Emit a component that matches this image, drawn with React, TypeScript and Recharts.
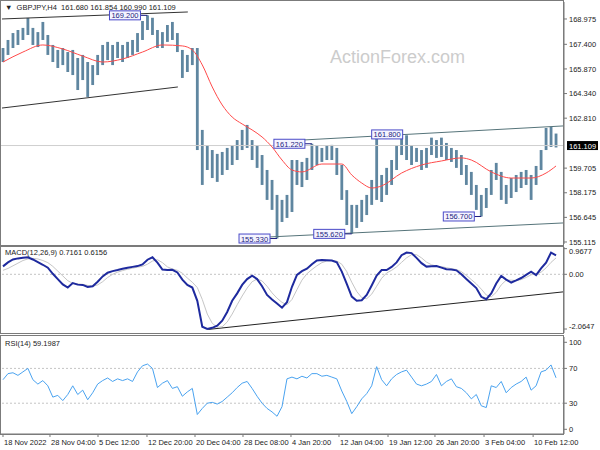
import React from "react";
import {
  ComposedChart,
  Bar,
  Line,
  XAxis,
  YAxis,
  ReferenceLine,
  ReferenceDot,
} from "recharts";

// H4 bars, sampled ~every 3 bars across the picture
const highs = [
  167.17, 167.67, 168.1, 168.29, 168.42, 169.04, 168.42, 168.16, 168.79, 167.98,
  167.36, 167.05, 167.17, 166.92, 167.05, 166.55, 166.74, 166.3, 166.11, 166.74,
  167.36, 167.55, 167.36, 167.55, 167.36, 167.55, 167.67, 168.1, 168.85, 169.2,
  169.05, 168.29, 168.16, 168.6, 168.79, 168.1, 167.05, 166.74, 167.17, 167.17,
  162.08, 161.14, 160.83, 160.59, 160.71, 160.96, 161.14, 161.45, 162.08, 162.39,
  161.45, 161.14, 160.52, 159.59, 158.97, 158.04, 157.73, 158.04, 160.21, 160.21,
  160.09, 160.34, 161.22, 161.14, 160.96, 161.14, 161.15, 160.96, 159.9, 158.34,
  157.42, 157.42, 157.73, 158.04, 158.97, 161.8, 159.28, 159.72, 160.21, 161.14,
  161.7, 161.75, 161.14, 160.96, 160.83, 160.96, 161.6, 161.45, 161.6, 161.27,
  160.96, 160.83, 160.52, 159.9, 159.47, 158.66, 158.04, 158.47, 159.59, 160.03,
  159.47, 158.66, 159.09, 159.28, 159.47, 159.59, 159.28, 159.84, 160.83, 162.2,
  162.27, 161.854,
];
const lows = [
  166.3, 166.74, 167.17, 167.36, 167.67, 167.98, 167.36, 167.23, 167.67, 166.74,
  166.3, 165.93, 166.11, 165.68, 165.49, 164.56, 165.18, 164.13, 164.87, 165.49,
  166.11, 166.42, 166.11, 166.55, 166.3, 166.55, 166.74, 166.92, 167.67, 168.29,
  167.98, 167.17, 167.17, 167.55, 167.67, 166.92, 165.31, 165.68, 166.11, 160.83,
  158.66, 159.59, 159.09, 158.85, 159.28, 159.59, 159.9, 160.21, 160.83, 160.96,
  160.21, 159.72, 158.66, 157.73, 157.11, 155.33, 156.36, 156.61, 156.98, 158.66,
  158.53, 158.97, 159.59, 159.9, 160.09, 160.21, 160.21, 159.28, 157.73, 156.17,
  155.62, 155.99, 156.36, 156.79, 157.42, 157.73, 157.6, 158.04, 158.66, 159.59,
  160.52, 160.21, 159.9, 160.09, 159.59, 159.72, 160.52, 160.34, 160.4, 160.21,
  160.09, 159.72, 159.28, 158.66, 158.04, 157.11, 156.7, 157.23, 158.04, 158.97,
  157.73, 157.48, 157.85, 158.22, 158.47, 158.66, 157.73, 158.66, 159.59, 160.83,
  161.02, 160.99,
];

// moving average (red), read at a few bars
const maIdx = [
  0, 4, 8, 12, 16, 20, 24, 28, 32, 36, 38, 40, 42, 44, 46, 48, 50, 52, 54, 56,
  58, 60, 64, 68, 70, 72, 74, 76, 80, 84, 88, 92, 94, 98, 102, 106, 109, 111,
];
const maVals = [
  166.3, 166.92, 167.36, 167.11, 166.67, 166.3, 166.49, 166.92, 167.36, 167.3,
  167.05, 166.12, 164.75, 163.63, 162.88, 162.45, 162.08, 161.64, 161.02, 160.21,
  159.59, 159.47, 159.96, 159.96, 159.28, 158.78, 158.47, 158.6, 159.4, 159.9,
  160.15, 160.34, 160.21, 159.47, 159.09, 159.09, 159.4, 159.84,
];

const macdVals = [
  0.3, 0.45, 0.56, 0.6, 0.62, 0.64, 0.56, 0.46, 0.36, 0.25,
  0.02, -0.18, -0.38, -0.5, -0.33, -0.39, -0.4, -0.48, -0.45, -0.28,
  -0.08, 0.06, 0.12, 0.16, 0.21, 0.25, 0.28, 0.31, 0.37, 0.55,
  0.64, 0.44, 0.18, 0.16, 0.17, 0.07, -0.2, -0.4, -0.5, -1.0,
  -1.98, -2.06, -2.02, -1.94, -1.75, -1.42, -1.0, -0.72, -0.4, -0.18,
  -0.05, -0.18, -0.45, -0.78, -0.95, -1.1, -1.26, -1.05, -0.47, -0.02,
  0.12, 0.21, 0.38, 0.52, 0.54, 0.53, 0.52, 0.45, 0.1, -0.36,
  -0.84, -1.0, -0.98, -0.78, -0.42, -0.05, 0.16, 0.16, 0.28, 0.45,
  0.72, 0.82, 0.8, 0.62, 0.42, 0.29, 0.3, 0.31, 0.25, 0.19,
  0.18, 0.15, 0.0, -0.18, -0.35, -0.52, -0.85, -0.94, -0.72, -0.35,
  -0.06, -0.2, -0.31, -0.23, -0.14, -0.02, 0.1, -0.03, 0.22, 0.44,
  0.82, 0.7161,
];
const signalVals = [
  0.15, 0.22, 0.32, 0.42, 0.52, 0.58, 0.6, 0.58, 0.52, 0.44,
  0.3, 0.12, -0.06, -0.24, -0.34, -0.36, -0.38, -0.42, -0.45, -0.4,
  -0.28, -0.12, 0.0, 0.08, 0.14, 0.19, 0.23, 0.27, 0.3, 0.38,
  0.5, 0.55, 0.44, 0.28, 0.2, 0.15, 0.04, -0.14, -0.3, -0.5,
  -0.95, -1.5, -1.85, -2.0, -1.98, -1.8, -1.5, -1.15, -0.82, -0.52,
  -0.28, -0.18, -0.25, -0.45, -0.7, -0.9, -1.06, -1.15, -0.95, -0.58,
  -0.22, 0.02, 0.18, 0.32, 0.44, 0.5, 0.52, 0.5, 0.38, 0.1,
  -0.3, -0.65, -0.88, -0.92, -0.75, -0.45, -0.15, 0.05, 0.15, 0.28,
  0.45, 0.62, 0.74, 0.74, 0.62, 0.46, 0.36, 0.31, 0.29, 0.25,
  0.21, 0.18, 0.1, -0.04, -0.2, -0.36, -0.56, -0.78, -0.85, -0.68,
  -0.4, -0.22, -0.22, -0.24, -0.2, -0.12, -0.02, 0.02, 0.08, 0.24,
  0.45, 0.6156,
];
const rsiVals = [
  57, 64, 65, 62, 66, 70, 57, 52, 56, 50,
  37, 39, 33, 40, 50, 40, 45, 34, 42, 52,
  56, 59, 55, 58, 56, 58, 55, 66, 73, 75,
  70, 48, 53, 56, 47, 49, 38, 43, 47, 17,
  24, 30, 31, 29, 32, 37, 42, 48, 53, 55,
  47, 38, 30, 24, 20, 15, 26, 58, 60, 58,
  61, 59, 64, 64, 61, 62, 60, 58, 44, 32,
  18, 26, 35, 41, 50, 72, 57, 50, 58, 63,
  66, 68, 60, 52, 50, 52, 55, 63, 50, 55,
  58, 49, 47, 42, 35, 40, 27, 25, 50, 48,
  55, 42, 48, 52, 55, 60, 45, 50, 66, 68,
  74, 59.1987,
];

const tickIdx = [0, 9.43, 19.07, 28.9, 38.54, 48.17, 57.8, 67.44, 77.28, 86.7, 96.55, 106.4];
const tickLabels = [
  "18 Nov 2022", "28 Nov 04:00", "5 Dec 12:00", "12 Dec 20:00", "20 Dec 04:00",
  "28 Dec 08:00", "4 Jan 20:00", "12 Jan 04:00", "19 Jan 12:00", "26 Jan 20:00",
  "3 Feb 04:00", "10 Feb 12:00",
];
const priceTicks = [168.975, 167.4, 165.87, 164.34, 162.81, 159.705, 158.175, 156.645, 155.115];
const macdTicks = [0.9677, 0, -2.0647];
const rsiTicks = [100, 70, 30, 0];

const pivotIdx = [29, 62, 55, 70, 75, 96];
const pivotPrice = [169.2, 161.22, 155.33, 155.62, 161.8, 156.7];

// trend lines: [startIdx, startPrice, endIdx, endPrice]
const blackLines = [
  [-0.2, 168.975, 37.1, 169.41],
  [-0.2, 163.44, 35.1, 164.75],
];
const channelLines = [
  [60.6, 161.46, 112.6, 162.33],
  [53.6, 155.43, 112.6, 156.3],
];
const macdLine = [41.2, -2.08, 112.6, -0.66];

const lastClose = 161.109;

const rows = highs.map((h, i) => ({
  i,
  high: h,
  low: lows[i],
  ma: null as number | null,
  macd: macdVals[i],
  signal: signalVals[i],
  rsi: rsiVals[i],
}));
maIdx.forEach((idx, k) => {
  rows[idx].ma = maVals[k];
});

const FONT = '"Liberation Sans", Arial, sans-serif';
const X_DOMAIN: [number, number] = [-0.4, 112.6];
const W = 600;
const AXIS_W = 36;
const tickStyle = { fontSize: 7.5, fill: "#222", fontFamily: FONT };

function HLBar(props: any) {
  const { x, y, width, height } = props;
  const top = Math.min(y, y + height);
  const h = Math.max(Math.abs(height), 1);
  return <rect x={x + width / 2 - 1.4} y={top} width={2.8} height={h} fill="#5f86a0" />;
}

function PivotTag(props: any) {
  const { cx, cy, text } = props;
  const boxW = 31;
  const left = text === "161.800" ? cx - 5 : cx - 7 - boxW;
  return (
    <g>
      {text !== "161.800" && (
        <line x1={left + boxW} y1={cy} x2={cx} y2={cy} stroke="#1d1d80" strokeWidth={1} />
      )}
      <rect x={left} y={cy - 4.5} width={boxW} height={9} fill="#f4f4ff" stroke="#4a4ac8" strokeWidth={1} />
      <text x={left + boxW / 2} y={cy + 3} textAnchor="middle" fontSize={7.5} fontFamily={FONT} fill="#1d1d80">
        {text}
      </text>
    </g>
  );
}

function PriceTag(props: any) {
  const vb = props.viewBox || {};
  const x = vb.x + vb.width + 3;
  const y = vb.y;
  return (
    <g>
      <rect x={x} y={y - 4.5} width={31} height={9} fill="#000" />
      <text x={x + 2} y={y + 3} fontSize={7.5} fontFamily={FONT} fill="#fff">
        {lastClose.toFixed(3)}
      </text>
    </g>
  );
}

function MacdTick(props: any) {
  const { x, y, payload } = props;
  const v = payload.value;
  const dy = v > 0 ? 5.5 : v < 0 ? 0 : 2.5;
  return (
    <text x={x} y={y + dy} textAnchor="start" fontSize={7.5} fontFamily={FONT} fill="#222">
      {v === 0 ? "0.00" : v.toFixed(4)}
    </text>
  );
}

function XTick(props: any) {
  const { x, y, payload } = props;
  const k = tickIdx.indexOf(payload.value);
  return (
    <text x={x + 1} y={y + 6} textAnchor="start" fontSize={7.5} fontFamily={FONT} fill="#222">
      {tickLabels[k]}
    </text>
  );
}

const frame = (top: number, height: number): React.CSSProperties => ({
  position: "absolute",
  left: 0,
  top,
  width: 564,
  height,
  border: "1px solid #7b7b7b",
  boxSizing: "border-box",
  pointerEvents: "none",
});

const label = (top: number): React.CSSProperties => ({
  position: "absolute",
  left: 5,
  top,
  fontSize: 7.5,
  fontFamily: FONT,
  color: "#222",
  whiteSpace: "pre",
});

export default function App() {
  return (
    <div style={{ position: "absolute", left: 0, top: 0, width: 600, height: 450, background: "#fff", overflow: "hidden" }}>
      <div style={{ position: "absolute", left: 330, top: 47, fontSize: 18, fontFamily: FONT, color: "#cccccc" }}>
        ActionForex.com
      </div>

      {/* price panel */}
      <div style={{ position: "absolute", left: 0, top: 0 }}>
        <ComposedChart width={W} height={246} data={rows} margin={{ top: 2, right: 0, left: 1, bottom: 2 }}>
          <XAxis dataKey="i" type="number" domain={X_DOMAIN} hide />
          <YAxis
            orientation="right"
            width={AXIS_W}
            domain={[154.99, 170.03]}
            ticks={priceTicks}
            tickFormatter={(v) => v.toFixed(3)}
            tick={tickStyle}
            tickSize={3}
            axisLine={{ stroke: "#777" }}
            tickLine={{ stroke: "#777" }}
            interval={0}
          />
          <ReferenceLine y={lastClose} stroke="#cfcfcf" label={PriceTag} />
          {blackLines.map((l, k) => (
            <ReferenceLine key={"b" + k} segment={[{ x: l[0], y: l[1] }, { x: l[2], y: l[3] }]} stroke="#333" ifOverflow="visible" />
          ))}
          {channelLines.map((l, k) => (
            <ReferenceLine key={"c" + k} segment={[{ x: l[0], y: l[1] }, { x: l[2], y: l[3] }]} stroke="#56747a" ifOverflow="visible" />
          ))}
          <Bar dataKey={(d: any) => [d.low, d.high]} barSize={3} shape={HLBar} isAnimationActive={false} />
          <Line dataKey="ma" type="monotone" stroke="#ff4a4a" strokeWidth={1} dot={false} connectNulls isAnimationActive={false} />
          {pivotIdx.map((idx, k) => (
            <ReferenceDot
              key={"p" + k}
              x={idx}
              y={pivotPrice[k]}
              ifOverflow="visible"
              shape={(p: any) => <PivotTag {...p} text={pivotPrice[k].toFixed(3)} />}
            />
          ))}
        </ComposedChart>
      </div>

      {/* MACD panel */}
      <div style={{ position: "absolute", left: 0, top: 246 }}>
        <ComposedChart width={W} height={88} data={rows} margin={{ top: 1, right: 0, left: 1, bottom: 1 }}>
          <XAxis dataKey="i" type="number" domain={X_DOMAIN} hide />
          <YAxis
            orientation="right"
            width={AXIS_W}
            domain={[-2.215, 1.03]}
            ticks={macdTicks}
            tick={MacdTick}
            tickSize={3}
            axisLine={{ stroke: "#777" }}
            tickLine={{ stroke: "#777" }}
            interval={0}
          />
          <ReferenceLine y={0} stroke="#c4c4c4" strokeDasharray="2 2" />
          <ReferenceLine segment={[{ x: macdLine[0], y: macdLine[1] }, { x: macdLine[2], y: macdLine[3] }]} stroke="#222" ifOverflow="visible" />
          <Line dataKey="signal" type="linear" stroke="#c6c6c6" strokeWidth={1} dot={false} isAnimationActive={false} />
          <Line dataKey="macd" type="linear" stroke="#1e2a9e" strokeWidth={2} dot={false} isAnimationActive={false} />
        </ComposedChart>
      </div>

      {/* RSI panel */}
      <div style={{ position: "absolute", left: 0, top: 335 }}>
        <ComposedChart width={W} height={115} data={rows} margin={{ top: 2, right: 0, left: 1, bottom: 0 }}>
          <XAxis
            dataKey="i"
            type="number"
            domain={X_DOMAIN}
            ticks={tickIdx}
            interval={0}
            height={16}
            tick={XTick}
            tickSize={3}
            axisLine={{ stroke: "#777" }}
            tickLine={{ stroke: "#777" }}
          />
          <YAxis
            orientation="right"
            width={AXIS_W}
            domain={[-5.4, 106.1]}
            ticks={rsiTicks}
            tick={tickStyle}
            tickSize={3}
            axisLine={{ stroke: "#777" }}
            tickLine={{ stroke: "#777" }}
            interval={0}
          />
          <ReferenceLine y={70} stroke="#c4c4c4" strokeDasharray="2 2" />
          <ReferenceLine y={30} stroke="#c4c4c4" strokeDasharray="2 2" />
          <Line dataKey="rsi" type="linear" stroke="#4aa3f0" strokeWidth={1} dot={false} isAnimationActive={false} />
        </ComposedChart>
      </div>

      <div style={frame(0, 246)} />
      <div style={frame(246, 88)} />
      <div style={frame(335, 100)} />

      <div style={label(3)}>{"▼  GBPJPY,H4  161.680 161.854 160.990 161.109"}</div>
      <div style={label(248)}>{"MACD(12,26,9) 0.7161 0.6156"}</div>
      <div style={label(339)}>{"RSI(14) 59.1987"}</div>
    </div>
  );
}
